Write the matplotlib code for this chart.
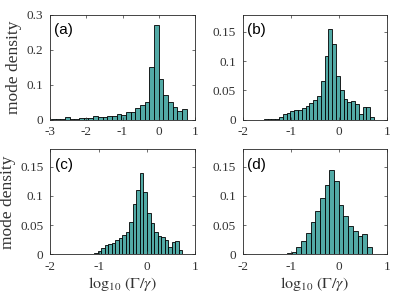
import matplotlib
matplotlib.use('Agg')
import matplotlib.pyplot as plt
import numpy as np

plt.rcParams['font.family'] = 'Liberation Serif'
plt.rcParams['mathtext.fontset'] = 'stix'
plt.rcParams['axes.unicode_minus'] = False

# histogram data: bin range (first left edge, last right edge) and densities
range_a = (-2.97, 0.77)
dens_a = [0.002, 0.002, 0.001, 0.006, 0.002, 0.002, 0.004, 0.004, 0.003, 0.009,
          0.006, 0.008, 0.009, 0.011, 0.016, 0.013, 0.022, 0.022, 0.033, 0.042,
          0.050, 0.150, 0.271, 0.117, 0.071, 0.050, 0.036, 0.025, 0.031]

range_b = (-1.56, 0.735)
dens_b = [0.0005, 0.0008, 0.001, 0.001, 0.005, 0.009, 0.012, 0.014, 0.016, 0.017,
          0.020, 0.024, 0.029, 0.034, 0.041, 0.066, 0.109, 0.155, 0.129, 0.075,
          0.051, 0.036, 0.030, 0.032, 0.026, 0.009, 0.021, 0.022, 0.005]

range_c = (-1.39, 0.737)
dens_c = [0.0005, 0.0005, 0.001, 0.001, 0.002, 0.006, 0.011, 0.016, 0.018, 0.020,
          0.024, 0.028, 0.033, 0.039, 0.055, 0.087, 0.110, 0.140, 0.106, 0.070,
          0.053, 0.039, 0.031, 0.029, 0.025, 0.013, 0.021, 0.023, 0.007]

range_d = (-1.37, 0.687)
dens_d = [0.0005, 0.0008, 0.001, 0.002, 0.004, 0.012, 0.023, 0.036, 0.055, 0.074,
          0.097, 0.119, 0.145, 0.126, 0.085, 0.066, 0.049, 0.040, 0.031, 0.034,
          0.013]

panel_labels = ['(a)', '(b)', '(c)', '(d)']
xticks_a = [-3, -2, -1, 0, 1]
yticks_a = [0, 0.1, 0.2, 0.3]
xticks_bcd = [-2, -1, 0, 1]
yticks_bcd = [0, 0.05, 0.1, 0.15]

bar_color = '#52aaa6'
txt_color = '#333333'

W, H = 395, 298
fig = plt.figure(figsize=(W / 100, H / 100), dpi=100)

# axes boxes in pixels: left, top, right, bottom
boxes = [(50, 14.5, 195, 119.5), (242.7, 14.5, 386.7, 119.5),
         (50.5, 149.3, 195, 254.3), (242.7, 149.3, 386.7, 254.3)]

panels = [(range_a, dens_a, xticks_a, yticks_a, (-3, 1), (0, 0.3)),
          (range_b, dens_b, xticks_bcd, yticks_bcd, (-2, 1), (0, 0.18)),
          (range_c, dens_c, xticks_bcd, yticks_bcd, (-2, 1), (0, 0.18)),
          (range_d, dens_d, xticks_bcd, yticks_bcd, (-2, 1), (0, 0.18))]

for i, (box, panel) in enumerate(zip(boxes, panels)):
    l, t, r, b = box
    ax = fig.add_axes([l / W, 1 - b / H, (r - l) / W, (b - t) / H])
    rng, dens, xt, yt, xl, yl = panel
    edges = np.linspace(rng[0], rng[1], len(dens) + 1)
    ax.bar(edges[:-1], dens, width=np.diff(edges), align='edge',
           color=bar_color, edgecolor='black', linewidth=0.6)
    ax.set_xlim(xl)
    ax.set_ylim(yl)
    ax.set_xticks(xt)
    ax.set_yticks(yt)
    ax.set_xticklabels(['%g' % v for v in xt])
    ax.set_yticklabels(['%g' % v for v in yt])
    ax.tick_params(direction='in', length=2.5, width=0.5, top=True, right=True,
                   labelsize=9.5, colors=txt_color, pad=5)
    for sp in ax.spines.values():
        sp.set_linewidth(0.6)
        sp.set_color('#262626')
    ax.text(0.03, 0.85, panel_labels[i], transform=ax.transAxes, ha='left',
            va='center', fontsize=11, family='Liberation Sans')
    if i % 2 == 0:
        ax.set_ylabel('mode density', fontsize=12.5, color=txt_color, labelpad=3)
    if i >= 2:
        ax.set_xlabel(r'$\log_{10}\,(\Gamma/\gamma)$', fontsize=11.5,
                      color=txt_color, labelpad=1)

fig.savefig('out.png', dpi=100)
